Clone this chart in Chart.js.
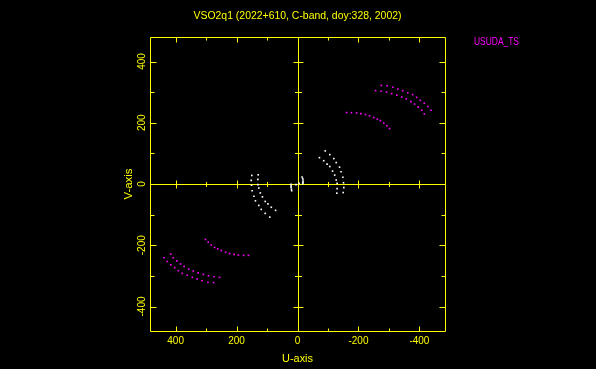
<!DOCTYPE html>
<html><head><meta charset="utf-8">
<script src="https://cdn.jsdelivr.net/npm/chart.js@4/dist/chart.umd.min.js"></script>
<style>html,body{margin:0;padding:0;background:#000;overflow:hidden}#c{display:block;background:#000}</style>
</head><body>
<canvas id="c" width="596" height="369"></canvas>
<script>
// ---------- DATA ----------
const titleText = 'VSO2q1 (2022+610, C-band, doy:328, 2002)';
const xTitle = 'U-axis';
const yTitle = 'V-axis';
const stationLabel = 'USUDA_TS';
const tickValues = [-400, -200, 0, 200, 400];
const tickLabels = ['-400', '-200', '0', '200', '400'];
const minorTickValues = [-400, -300, -200, -100, 100, 200, 300, 400];
const majorTickValues = [-400, -200, 200, 400];

// white points (short baselines) — upper right side
const wOuterU = [-91, -106, -119, -127, -138, -143, -149, -151, -152, -150];
const wOuterV = [108, 96, 83, 70, 55, 40, 22, 4, -12, -28];
const wInnerU = [-72, -86, -97, -106, -115, -122, -127, -130, -130, -129];
const wInnerV = [86, 76, 65, 57, 42, 29, 13, 2, -15, -30];
// white points — lower left side
const wOuterCU = [91, 106, 119, 127, 138, 143, 149, 151, 152, 150];
const wOuterCV = [-108, -96, -83, -70, -55, -40, -22, -4, 12, 28];
const wInnerCU = [72, 86, 97, 106, 115, 122, 127, 130, 130, 129];
const wInnerCV = [-86, -76, -65, -57, -42, -29, -13, -2, 15, 30];
// white points near origin
const wCoreU = [-15, -17, -18, -18, -18, -17, -5, 21, 21, 21, 20, 19, 5];
const wCoreV = [23, 18, 13, 8, 4, 1, 2, -1, -6, -11, -17, -22, -2];

// magenta points (USUDA_TS) — upper right
const mArcAU = [-161, -177, -194, -208, -223, -236, -250, -262, -272, -283, -293, -302];
const mArcAV = [233, 233, 232, 230, 227, 223, 217, 212, 207, 199, 190, 181];
const mArcBU = [-275, -294, -313, -329, -345, -362, -378, -391, -403, -416, -428, -438];
const mArcBV = [322, 321, 316, 310, 305, 298, 292, 283, 273, 264, 253, 241];
const mArcCU = [-256, -274, -292, -309, -326, -342, -357, -372, -384, -396, -408, -416];
const mArcCV = [305, 303, 300, 295, 290, 284, 278, 269, 261, 251, 241, 229];
// magenta points — lower left
const mArcACU = [161, 177, 194, 208, 223, 236, 250, 262, 272, 283, 293, 302];
const mArcACV = [-233, -233, -232, -230, -227, -223, -217, -212, -207, -199, -190, -181];
const mArcBCU = [275, 294, 313, 329, 345, 362, 378, 391, 403, 416, 428, 438];
const mArcBCV = [-322, -321, -316, -310, -305, -298, -292, -283, -273, -264, -253, -241];
const mArcCCU = [256, 274, 292, 309, 326, 342, 357, 372, 384, 396, 408, 416];
const mArcCCV = [-305, -303, -300, -295, -290, -284, -278, -269, -261, -251, -241, -229];

// ---------- BUILD ----------
const zip = (u, v) => u.map((x, i) => ({x: x, y: v[i]}));
const whitePts = [].concat(
  zip(wOuterU, wOuterV), zip(wInnerU, wInnerV),
  zip(wOuterCU, wOuterCV), zip(wInnerCU, wInnerCV),
  zip(wCoreU, wCoreV));
const magentaPts = [].concat(
  zip(mArcAU, mArcAV), zip(mArcBU, mArcBV), zip(mArcCU, mArcCV),
  zip(mArcACU, mArcACV), zip(mArcBCU, mArcBCV), zip(mArcCCU, mArcCCV));

const YELLOW = '#ffff00', MAGENTA = '#ff00ff', WHITE = '#ffffff';
const FONT = '10px "Liberation Sans", Arial, sans-serif';

function drawText(ctx, text, x, y, opt) {
  opt = opt || {};
  ctx.save();
  ctx.font = FONT;
  ctx.fillStyle = opt.color || YELLOW;
  ctx.textBaseline = 'alphabetic';
  ctx.translate(x, y);
  if (opt.rotate) ctx.rotate(opt.rotate);
  const w = ctx.measureText(text).width;
  const sx = opt.width ? opt.width / w : 1;
  ctx.scale(sx, 1);
  let dx = 0;
  if (opt.align === 'center') dx = -w / 2;
  else if (opt.align === 'right') dx = -w;
  ctx.textAlign = 'left';
  ctx.fillText(text, dx, 0);
  ctx.restore();
}

const pgplot = {
  id: 'pgplot',
  beforeDatasetsDraw(chart) {
    const {ctx, chartArea: a, scales: {x, y}} = chart;
    const px = v => Math.round(x.getPixelForValue(v)) + 0.5;
    const py = v => Math.round(y.getPixelForValue(v)) + 0.5;
    const L = Math.round(a.left) + 0.5, R = Math.round(a.right) + 0.5;
    const T = Math.round(a.top) + 0.5, B = Math.round(a.bottom) + 0.5;
    ctx.save();
    ctx.strokeStyle = YELLOW;
    ctx.lineWidth = 1;
    ctx.beginPath();
    ctx.rect(L, T, R - L, B - T);
    const x0 = px(0), y0 = py(0);
    ctx.moveTo(x0, T); ctx.lineTo(x0, B);
    ctx.moveTo(L, y0); ctx.lineTo(R, y0);
    for (const v of minorTickValues) {
      const maj = majorTickValues.includes(v);
      const lf = maj ? 5 : 3;
      const lz = maj ? 4 : 2.5;
      const xx = px(v), yy = py(v);
      ctx.moveTo(xx, T); ctx.lineTo(xx, T + lf);
      ctx.moveTo(xx, B); ctx.lineTo(xx, B - lf);
      ctx.moveTo(xx, y0 - lz); ctx.lineTo(xx, y0 + lz);
      ctx.moveTo(L, yy); ctx.lineTo(L + lf + 1, yy);
      ctx.moveTo(R, yy); ctx.lineTo(R - lf - 1, yy);
      ctx.moveTo(x0 - lz - 1, yy); ctx.lineTo(x0 + lz + 1, yy);
    }
    ctx.stroke();
    ctx.restore();
  },
  afterDraw(chart) {
    const {ctx, chartArea: a, scales: {x, y}} = chart;
    tickValues.forEach((v, i) => {
      drawText(ctx, tickLabels[i], x.getPixelForValue(v), a.bottom + 12.5, {align: 'center'});
      drawText(ctx, tickLabels[i], a.left - 5, y.getPixelForValue(v), {align: 'center', rotate: -Math.PI / 2});
    });
    const cx = (a.left + a.right) / 2, cy = (a.top + a.bottom) / 2;
    drawText(ctx, titleText, cx, 19, {align: 'center', width: 208});
    drawText(ctx, xTitle, cx, 362, {align: 'center', width: 31});
    drawText(ctx, yTitle, a.left - 18.5, cy, {align: 'center', rotate: -Math.PI / 2, width: 31});
    drawText(ctx, stationLabel, 474, 45, {align: 'left', width: 45, color: MAGENTA});
  }
};

new Chart(document.getElementById('c'), {
  type: 'scatter',
  data: {
    datasets: [
      {label: 'white', data: whitePts, backgroundColor: WHITE, borderWidth: 0, pointStyle: 'rect', pointRadius: 1.15},
      {label: stationLabel, data: magentaPts, backgroundColor: MAGENTA, borderWidth: 0, pointStyle: 'rect', pointRadius: 1.15}
    ]
  },
  options: {
    responsive: false,
    animation: false,
    events: [],
    layout: {padding: {left: 150, right: 151, top: 37, bottom: 38}},
    plugins: {legend: {display: false}, tooltip: {enabled: false}},
    scales: {
      x: {type: 'linear', display: false, min: -484, max: 484, reverse: true},
      y: {type: 'linear', display: false, min: -480, max: 480}
    }
  },
  plugins: [pgplot]
});
</script>
</body></html>
